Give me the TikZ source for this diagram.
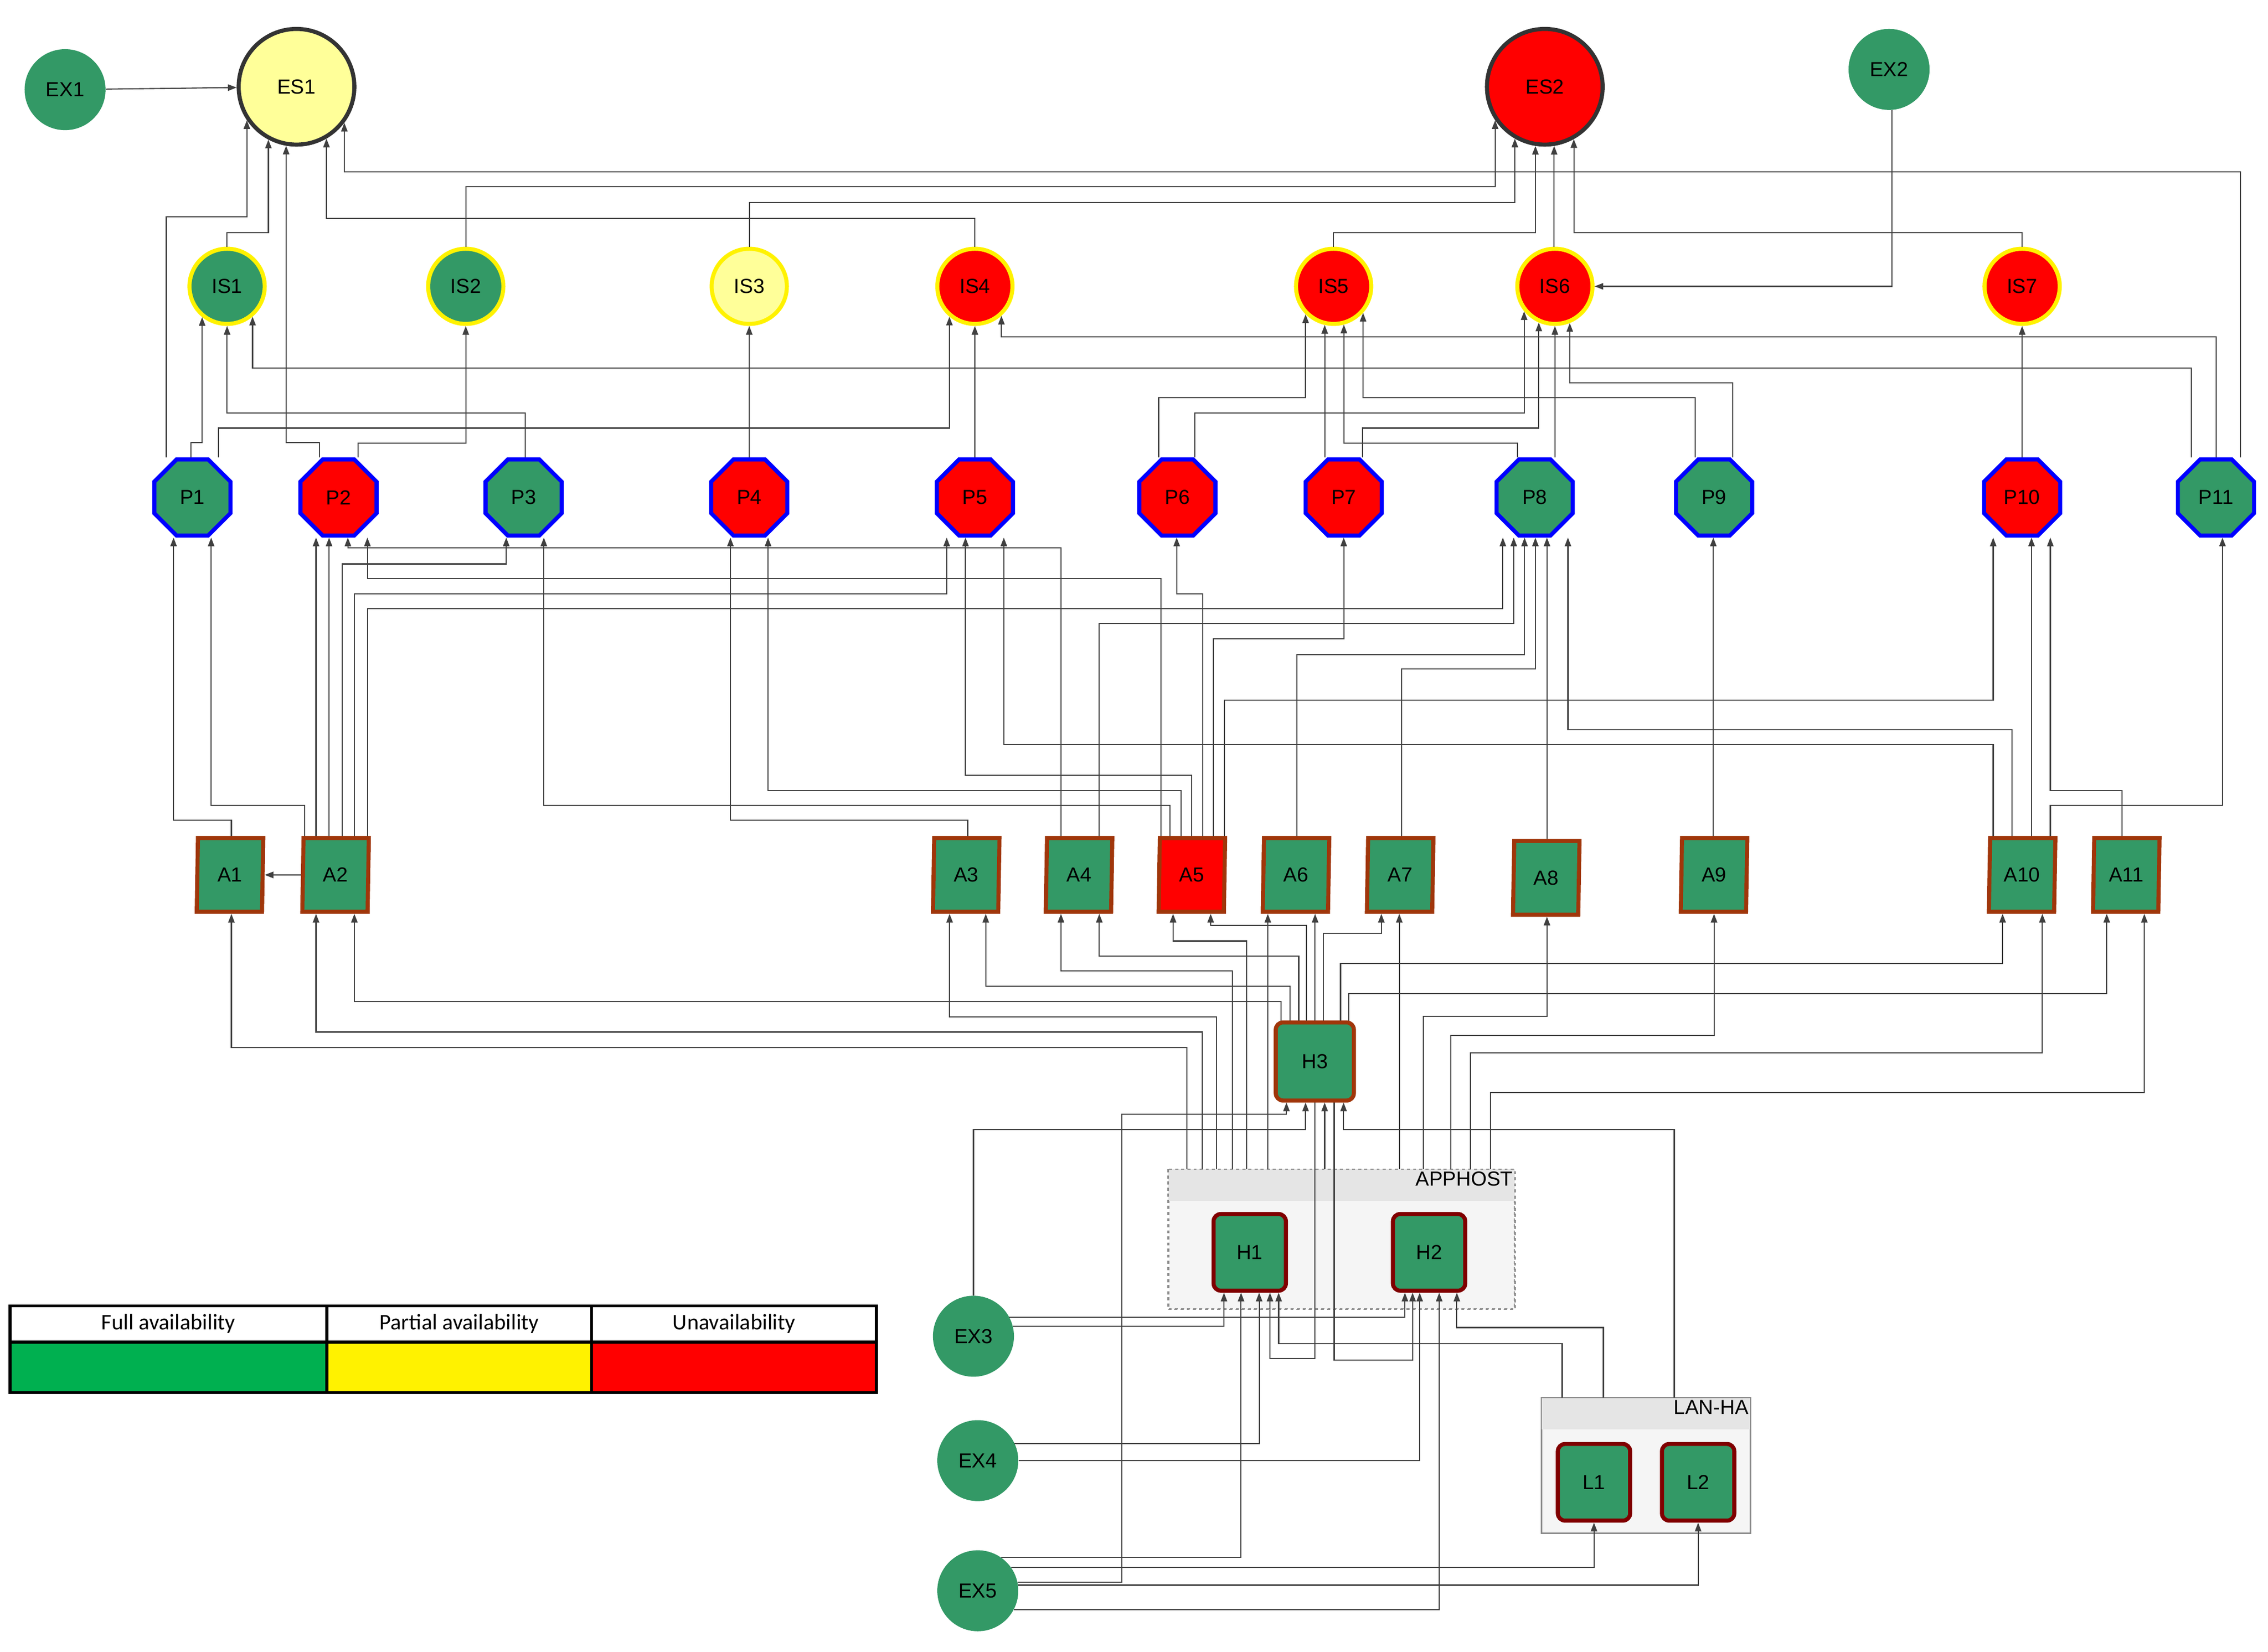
\documentclass[tikz,border=0pt]{standalone}
\usepackage{fontspec}
\setmainfont{Liberation Sans}
\newfontfamily\legendfont{Carlito}
\usetikzlibrary{arrows.meta,shapes.geometric}
\definecolor{okgreen}{HTML}{339966}
\definecolor{appborder}{HTML}{A0360A}
\definecolor{hostborder}{HTML}{800000}
\definecolor{paleyellow}{HTML}{FFFF99}
\definecolor{legendgreen}{HTML}{00B050}
\tikzset{
    every node/.style = {
        font=\fontsize{20}{22}\selectfont,
        },
    ext/.style = {
        circle, fill=okgreen, minimum size=2.8cm, inner sep=0pt,
        },
    ext sys/.style = {
        circle, draw=black!80, line width=4pt, minimum size=4cm, inner sep=0pt,
        },
    int sys/.style = {
        circle, draw=yellow, line width=4pt, minimum size=2.6cm, inner sep=0pt,
        },
    proc/.style = {
        regular polygon, regular polygon sides=8, draw=blue, line width=4pt,
        minimum size=2.85cm, inner sep=0pt,
        },
    app/.style = {
        trapezium, trapezium left angle=85, trapezium right angle=95,
        trapezium stretches body, draw=appborder, line width=4pt,
        minimum width=2.3cm, minimum height=2.55cm, inner sep=0pt,
        },
    host/.style = {
        rectangle, rounded corners=0.25cm, fill=okgreen, line width=4pt,
        minimum width=2.5cm, minimum height=2.65cm, inner sep=0pt,
        },
    group/.style = {
        rectangle, fill=black!4, draw=black!45, line width=1.2pt, inner sep=0pt,
        },
    link/.style = {
        draw=black!75, line width=1.1pt, -{Triangle[length=0.3cm,width=0.22cm]},
        },
    legend head/.style = {
        draw=black, line width=3pt, fill=white, minimum width=10.95cm,
        minimum height=1.25cm, inner sep=0pt, font=\legendfont\fontsize{22}{24}\selectfont,
        },
    legend box/.style = {
        draw=black, line width=3pt, minimum width=10.95cm, minimum height=1.75cm, inner sep=0pt,
        },
}
\begin{document}
\begin{tikzpicture}[x=0.05cm,y=-0.05cm]
    \useasboundingbox (0,0) rectangle (1568,1142);

    % groups
    \node[group, dashed, minimum width=11.95cm, minimum height=4.8cm] (APPHOST) at (927.5,857) {};
    \fill[black!10] (APPHOST.north west) rectangle ([yshift=-1.1cm]APPHOST.north east);
    \draw[black!45, line width=1.2pt, dashed] (APPHOST.north west) rectangle (APPHOST.south east);
    \node[anchor=north east, inner sep=2pt] at (APPHOST.north east) {APPHOST};
    \node[group, minimum width=7.2cm, minimum height=4.65cm] (LANHA) at (1138,1013.5) {};
    \fill[black!10] (LANHA.north west) rectangle ([yshift=-1.1cm]LANHA.north east);
    \draw[black!45, line width=1.2pt] (LANHA.north west) rectangle (LANHA.south east);
    \node[anchor=north east, inner sep=2pt] at (LANHA.north east) {LAN-HA};

    % external systems
    \node[ext] (EX1) at (45,62) {EX1};
    \node[ext] (EX2) at (1306,48) {EX2};
    \node[ext] (EX3) at (673,924) {EX3};
    \node[ext] (EX4) at (676,1010) {EX4};
    \node[ext] (EX5) at (676,1100) {EX5};
    \node[ext sys, fill=paleyellow] (ES1) at (205,60) {ES1};
    \node[ext sys, fill=red] (ES2) at (1068,60) {ES2};

    % internal systems
    \node[int sys, fill=okgreen] (IS1) at (157,198) {IS1};
    \node[int sys, fill=okgreen] (IS2) at (322,198) {IS2};
    \node[int sys, fill=paleyellow] (IS3) at (518,198) {IS3};
    \node[int sys, fill=red] (IS4) at (674,198) {IS4};
    \node[int sys, fill=red] (IS5) at (922,198) {IS5};
    \node[int sys, fill=red] (IS6) at (1075,198) {IS6};
    \node[int sys, fill=red] (IS7) at (1398,198) {IS7};

    % processes
    \node[proc, fill=okgreen] (P1) at (133,344) {P1};
    \node[proc, fill=red] (P2) at (234,344) {P2};
    \node[proc, fill=okgreen] (P3) at (362,344) {P3};
    \node[proc, fill=red] (P4) at (518,344) {P4};
    \node[proc, fill=red] (P5) at (674,344) {P5};
    \node[proc, fill=red] (P6) at (814,344) {P6};
    \node[proc, fill=red] (P7) at (929,344) {P7};
    \node[proc, fill=okgreen] (P8) at (1061,344) {P8};
    \node[proc, fill=okgreen] (P9) at (1185,344) {P9};
    \node[proc, fill=red] (P10) at (1398,344) {P10};
    \node[proc, fill=okgreen] (P11) at (1532,344) {P11};

    % applications
    \node[app, fill=okgreen] (A1) at (159,605) {A1};
    \node[app, fill=okgreen] (A2) at (232,605) {A2};
    \node[app, fill=okgreen] (A3) at (668,605) {A3};
    \node[app, fill=okgreen] (A4) at (746,605) {A4};
    \node[app, fill=red] (A5) at (824,605) {A5};
    \node[app, fill=okgreen] (A6) at (896,605) {A6};
    \node[app, fill=okgreen] (A7) at (968,605) {A7};
    \node[app, fill=okgreen] (A8) at (1069,607) {A8};
    \node[app, fill=okgreen] (A9) at (1185,605) {A9};
    \node[app, fill=okgreen] (A10) at (1398,605) {A10};
    \node[app, fill=okgreen] (A11) at (1470,605) {A11};

    % hosts
    \node[host, draw=appborder, minimum width=2.7cm, minimum height=2.7cm] (H3) at (909,734) {H3};
    \node[host, draw=hostborder] (H1) at (864,866) {H1};
    \node[host, draw=hostborder] (H2) at (988,866) {H2};
    \node[host, draw=hostborder] (L1) at (1102,1025) {L1};
    \node[host, draw=hostborder] (L2) at (1174,1025) {L2};

    % legend
    \node[legend head] (full) at (116.5,915.5) {Full availability};
    \node[legend head, minimum width=9.15cm] (partial) at (317.5,915.5) {Partial availability};
    \node[legend head, minimum width=9.85cm] (unavail) at (507.5,915.5) {Unavailability};
    \node[legend box, fill=legendgreen] (full box) at (116.5,945.5) {};
    \node[legend box, fill=yellow, minimum width=9.15cm] (partial box) at (317.5,945.5) {};
    \node[legend box, fill=red, minimum width=9.85cm] (unavail box) at (507.5,945.5) {};

    % into ES1 / ES2
    \draw[link] (EX1) -- (ES1);
    \draw[link] (115,0 |- P1.north) |- (ES1.-146 |- 0,150) -- (ES1.-146);
    \draw[link] (IS1.north) |- (ES1.-118 |- 0,161) -- (ES1.-118);
    \draw[link] (221,0 |- P2.north) |- (ES1.-100 |- 0,306) -- (ES1.-100);
    \draw[link] (IS4.north) |- (ES1.-60 |- 0,151) -- (ES1.-60);
    \draw[link] (1549,0 |- P11.north) |- (ES1.-37 |- 0,119) -- (ES1.-37);
    \draw[link] (IS2.north) |- (ES2.-146 |- 0,129) -- (ES2.-146);
    \draw[link] (IS3.north) |- (ES2.-120 |- 0,140) -- (ES2.-120);
    \draw[link] (IS5.north) |- (ES2.-99 |- 0,161) -- (ES2.-99);
    \draw[link] (ES2.-81 |- IS6.north) -- (ES2.-81);
    \draw[link] (IS7.north) |- (ES2.-61 |- 0,161) -- (ES2.-61);
    \draw[link] (1308,0 |- EX2.south) |- (IS6.east);

    % into IS
    \draw[link] (132,0 |- P1.north) |- (IS1.-129 |- 0,306) -- (IS1.-129);
    \draw[link] (363,0 |- P3.north) |- (IS1.south |- 0,285.5) -- (IS1.south);
    \draw[link] (1515,0 |- P11.north) |- (IS1.-50 |- 0,254.5) -- (IS1.-50);
    \draw[link] (247.5,0 |- P2.north) |- (IS2.south |- 0,306.5) -- (IS2.south);
    \draw[link] (P4.north) -- (IS3.south);
    \draw[link] (151,0 |- P1.north) |- (IS4.-130 |- 0,296) -- (IS4.-130);
    \draw[link] (P5.north) -- (IS4.south);
    \draw[link] (1532,0 |- P11.north) |- (IS4.-48 |- 0,233) -- (IS4.-48);
    \draw[link] (801,0 |- P6.north) |- (IS5.-135 |- 0,275) -- (IS5.-135);
    \draw[link] (IS5.-103 |- P7.north) -- (IS5.-103);
    \draw[link] (1049,0 |- P8.north) |- (IS5.-75 |- 0,306.5) -- (IS5.-75);
    \draw[link] (1172,0 |- P9.north) |- (IS5.-42 |- 0,275) -- (IS5.-42);
    \draw[link] (826,0 |- P6.north) |- (IS6.-141 |- 0,285.5) -- (IS6.-141);
    \draw[link] (942,0 |- P7.north) |- (IS6.-114 |- 0,296) -- (IS6.-114);
    \draw[link] (IS6.south |- P8.north) -- (IS6.south);
    \draw[link] (1198,0 |- P9.north) |- (IS6.-68 |- 0,264.7) -- (IS6.-68);
    \draw[link] (P10.north) -- (IS7.south);

    % into P
    \draw[link] (160,0 |- A1.north) |- (120,567) -- (120,0 |- P1.south);
    \draw[link] (210.5,0 |- A2.north) |- (146,557) -- (146,0 |- P1.south);
    \draw[link] (218.5,0 |- A2.north) -- (218.5,0 |- P2.south);
    \draw[link] (227.5,0 |- A2.north) -- (227.5,0 |- P2.south);
    \draw[link] (236.5,0 |- A2.north) |- (350,390) -- (350,0 |- P3.south);
    \draw[link] (245,0 |- A2.north) |- (654.5,410.7) -- (654.5,0 |- P5.south);
    \draw[link] (254,0 |- A2.north) |- (1039,421) -- (1039,0 |- P8.south);
    \draw[link] (669,0 |- A3.north) |- (505,567) -- (505,0 |- P4.south);
    \draw[link] (733.5,0 |- A4.north) |- (240.5,378.8) -- (240.5,0 |- P2.south);
    \draw[link] (760,0 |- A4.north) |- (1046.5,431) -- (1046.5,0 |- P8.south);
    \draw[link] (802.5,0 |- A5.north) |- (254,400) -- (254,0 |- P2.south);
    \draw[link] (809,0 |- A5.north) |- (376,557) -- (376,0 |- P3.south);
    \draw[link] (816.5,0 |- A5.north) |- (531,546.7) -- (531,0 |- P4.south);
    \draw[link] (824,0 |- A5.north) |- (667.5,536) -- (667.5,0 |- P5.south);
    \draw[link] (831.5,0 |- A5.north) |- (813.5,410.7) -- (813.5,0 |- P6.south);
    \draw[link] (839,0 |- A5.north) |- (929,441.7) -- (929,0 |- P7.south);
    \draw[link] (846.5,0 |- A5.north) |- (1378,484) -- (1378,0 |- P10.south);
    \draw[link] (896.5,0 |- A6.north) |- (1054,452.7) -- (1054,0 |- P8.south);
    \draw[link] (969,0 |- A7.north) |- (1061.5,462.7) -- (1061.5,0 |- P8.south);
    \draw[link] (1069.5,0 |- A8.north) -- (1069.5,0 |- P8.south);
    \draw[link] (1184.5,0 |- A9.north) -- (1184.5,0 |- P9.south);
    \draw[link] (1378,0 |- A10.north) |- (694,515) -- (694,0 |- P5.south);
    \draw[link] (1391,0 |- A10.north) |- (1084,504.7) -- (1084,0 |- P8.south);
    \draw[link] (1404.5,0 |- A10.north) -- (1404.5,0 |- P10.south);
    \draw[link] (1417.5,0 |- A10.north) |- (1536.5,557) -- (1536.5,0 |- P11.south);
    \draw[link] (1467,0 |- A11.north) |- (1417.5,546.7) -- (1417.5,0 |- P10.south);
    \draw[link] (A2.west) -- (A1.east);

    % into A
    \draw[link] (820.4,0 |- APPHOST.north) |- (160,724.5) -- (160,0 |- A1.south);
    \draw[link] (831,0 |- APPHOST.north) |- (218.5,713.6) -- (218.5,0 |- A2.south);
    \draw[link] (885.7,0 |- H3.north) |- (245,692.5) -- (245,0 |- A2.south);
    \draw[link] (841,0 |- APPHOST.north) |- (656.5,703.3) -- (656.5,0 |- A3.south);
    \draw[link] (891.9,0 |- H3.north) |- (681.5,682) -- (681.5,0 |- A3.south);
    \draw[link] (852,0 |- APPHOST.north) |- (733.5,671.5) -- (733.5,0 |- A4.south);
    \draw[link] (897.9,0 |- H3.north) |- (760,661) -- (760,0 |- A4.south);
    \draw[link] (862,0 |- APPHOST.north) |- (811,650.7) -- (811,0 |- A5.south);
    \draw[link] (903.3,0 |- H3.north) |- (837,639.8) -- (837,0 |- A5.south);
    \draw[link] (876.5,0 |- APPHOST.north) -- (876.5,0 |- A6.south);
    \draw[link] (909.2,0 |- H3.north) -- (909.2,0 |- A6.south);
    \draw[link] (915,0 |- H3.north) |- (955,645.4) -- (955,0 |- A7.south);
    \draw[link] (967.4,0 |- APPHOST.north) -- (967.4,0 |- A7.south);
    \draw[link] (984,0 |- APPHOST.north) |- (1069.5,702.8) -- (1069.5,0 |- A8.south);
    \draw[link] (1003,0 |- APPHOST.north) |- (1185,716) -- (1185,0 |- A9.south);
    \draw[link] (1016.7,0 |- APPHOST.north) |- (1412,728) -- (1412,0 |- A10.south);
    \draw[link] (1030.4,0 |- APPHOST.north) |- (1482.5,755.6) -- (1482.5,0 |- A11.south);
    \draw[link] (926.8,0 |- H3.north) |- (1384.5,666.4) -- (1384.5,0 |- A10.south);
    \draw[link] (932.5,0 |- H3.north) |- (1456.5,687) -- (1456.5,0 |- A11.south);

    % into H3
    \draw[link] (EX5.12) -| (775.6,770.6) -| (889.4,0 |- H3.south);
    \draw[link] (EX3.north) |- (902.6,781) -- (902.6,0 |- H3.south);
    \draw[link] (915.8,0 |- APPHOST.north) -- (915.8,0 |- H3.south);
    \draw[link] (1157.5,0 |- LANHA.north) |- (928.9,781) -- (928.9,0 |- H3.south);

    % into H1 / H2
    \draw[link] (EX3.14) -| (846.2,0 |- H1.south);
    \draw[link] (EX5.55) -| (858,0 |- H1.south);
    \draw[link] (EX4.25) -| (870.5,0 |- H1.south);
    \draw[link] (909,0 |- H3.south) |- (878,939.4) -- (878,0 |- H1.south);
    \draw[link] (1080,0 |- LANHA.north) |- (884,929) -- (884,0 |- H1.south);
    \draw[link] (EX3.28) -| (971.3,0 |- H2.south);
    \draw[link] (922.4,0 |- H3.south) |- (976.6,940.6) -- (976.6,0 |- H2.south);
    \draw[link] (EX4.east) -| (981.5,0 |- H2.south);
    \draw[link] (EX5.-28) -| (995,0 |- H2.south);
    \draw[link] (1108.5,0 |- LANHA.north) |- (1007.2,918) -- (1007.2,0 |- H2.south);

    % into L1 / L2
    \draw[link] (EX5.35) -| (L1.south);
    \draw[link] (EX5.8) -| (L2.south);
\end{tikzpicture}
\end{document}
